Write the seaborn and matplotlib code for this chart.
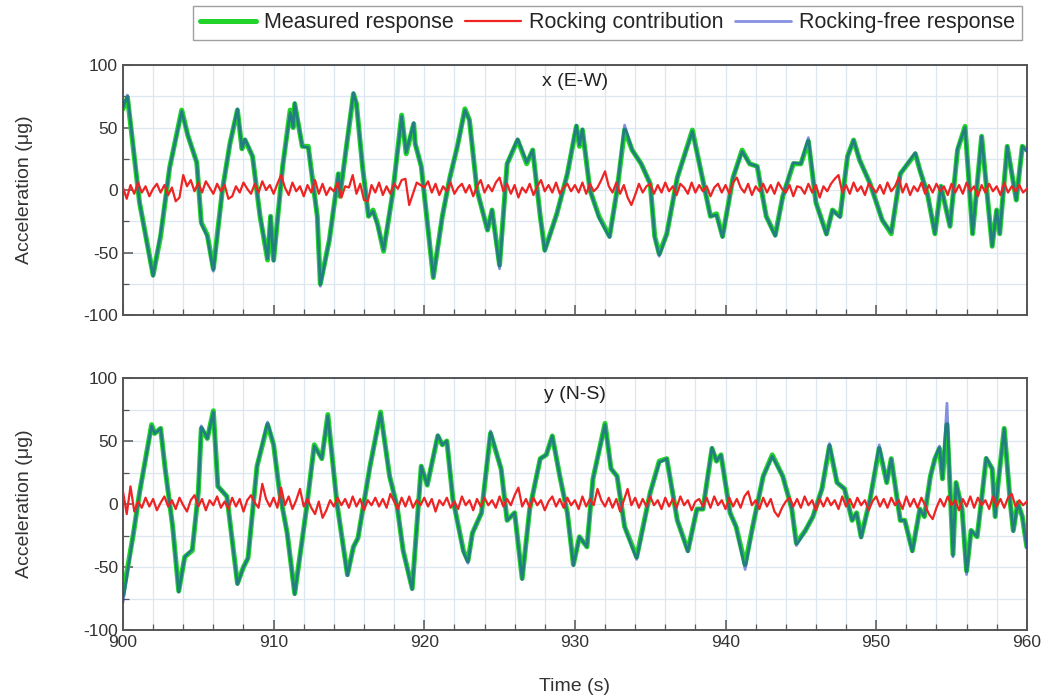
import numpy as np
import pandas as pd
import matplotlib
matplotlib.use("Agg")
import matplotlib.pyplot as plt
import seaborn as sns
from matplotlib.ticker import MultipleLocator

# ---------------- data ----------------
# x (E-W) component: measured response (time, value in micro-g)
t_x = [900.0, 900.3, 901.1, 902.0, 902.5, 903.1, 903.9, 904.3, 904.9, 905.2, 905.6, 906.0,
       906.6, 907.1, 907.6, 907.9, 908.1, 908.6, 909.1, 909.6, 909.8, 910.0, 910.6, 911.1,
       911.3, 911.4, 911.9, 912.3, 912.9, 913.1, 913.7, 914.3, 914.4, 915.3, 915.5, 915.9,
       916.3, 916.6, 916.9, 917.3, 917.9, 918.5, 918.8, 919.3, 919.4, 919.8, 920.6, 921.2,
       921.7, 922.2, 922.7, 923.0, 923.5, 924.2, 924.5, 925.0, 925.5, 926.2, 926.8, 927.2,
       927.7, 928.0, 928.8, 929.5, 930.1, 930.3, 930.5, 931.0, 931.6, 932.3, 932.8, 933.3,
       933.8, 934.4, 935.0, 935.3, 935.6, 936.1, 936.8, 937.8, 938.3, 939.0, 939.4, 939.8,
       940.5, 941.1, 941.6, 942.1, 942.7, 943.3, 943.8, 944.5, 945.0, 945.5, 946.0, 946.7,
       947.1, 947.6, 948.1, 948.5, 948.9, 949.6, 950.4, 951.0, 951.6, 952.6, 952.9, 953.4,
       953.9, 954.3, 954.9, 955.4, 955.9, 956.4, 957.0, 957.3, 957.7, 958.0, 958.2, 958.7,
       959.3, 959.7, 960.0]
meas_x = [65, 74, -10, -68, -37, 18, 64, 44, 22, -26, -36, -63,
          0, 37, 64, 33, 40, 27, -21, -56, -21, -56, 19, 64,
          50, 69, 35, 35, -21, -75, -40, 13, -5, 77, 69, 19,
          -21, -16, -27, -49, -3, 60, 29, 53, 37, 19, -70, -21,
          10, 35, 65, 56, 0, -32, -16, -60, 21, 40, 21, 32,
          -21, -48, -19, 13, 51, 35, 48, 0, -21, -37, 0, 48,
          32, 21, 5, -37, -51, -35, 10, 48, 19, -21, -19, -37,
          10, 32, 21, 19, -21, -36, -5, 21, 21, 39, -10, -35,
          -16, -21, 27, 40, 24, 5, -24, -35, 13, 29, 16, -3,
          -35, 3, -29, 32, 51, -35, 43, 5, -45, -16, -35, 35,
          -8, 35, 32]
free_x = [66, 76, -10, -69, -35, 18, 63, 44, 22, -27, -37, -65,
          0, 37, 65, 33, 41, 27, -21, -55, -21, -57, 19, 62,
          50, 70, 35, 34, -21, -77, -40, 13, -5, 78, 69, 19,
          -21, -17, -28, -48, -3, 59, 30, 54, 37, 19, -70, -21,
          10, 35, 64, 56, 0, -32, -16, -63, 21, 41, 22, 32,
          -21, -49, -19, 13, 52, 36, 49, 0, -22, -38, 0, 52,
          32, 21, 5, -38, -53, -35, 10, 47, 19, -21, -20, -38,
          10, 31, 21, 19, -21, -37, -5, 22, 21, 42, -10, -36,
          -16, -22, 27, 40, 24, 5, -24, -34, 13, 30, 16, -3,
          -35, 3, -29, 33, 50, -35, 43, 5, -45, -16, -35, 35,
          -8, 35, 31]
# rocking contribution, x component (uniform 0.25 s sampling, 900-960 s)
rock_x = [2, -7, 4, -3, 6, -2, 3, -5, 1, 5, -2, 4, -4, 2, -9, -6, 12, 3, 8, -1,
          6, -2, 7, 2, -3, 5, -1, 4, -7, -5, 3, -2, 6, 1, -3, 5, -2, 7, 0, 4,
          -3, 5, 12, 2, -4, 6, -1, 3, -5, 4, -2, 8, -3, 5, -4, 2, -1, 6, -6, 3,
          2, 12, -3, 5, -8, -9, 4, -2, 6, -4, 3, -3, 5, 1, 8, 9, -12, -3, 6, 4,
          2, 7, -2, 5, -4, 3, -1, 6, -3, 2, 5, -2, 4, -5, 3, 8, -2, 4, -1, 6,
          10, -1, 5, -3, 4, -6, 2, -2, 5, -4, 3, 8, -1, 4, -2, 6, -3, 2, 5, -1,
          4, -2, 6, -3, 5, -1, 2, 8, 15, 3, -2, 6, -3, 4, -6, -12, -4, 5, -2, 3,
          5, -3, 4, -2, 6, -1, 3, -4, 5, 2, -3, 6, -2, 4, -1, 3, -5, 2, 5, -2,
          4, -3, 6, 10, 2, -2, 5, -4, 3, -1, 5, -2, 4, -3, 6, 1, -2, 4, -5, 3,
          2, -3, 5, -2, 4, -6, 3, -1, 5, 9, 12, -2, 4, -3, 6, -1, 3, -4, 5, 2,
          -2, 4, -3, 6, -1, 3, 10, -2, 5, -4, 3, -1, 6, -3, 4, -2, 5, -1, 3, -4,
          5, -2, 4, -3, 6, -1, 3, -5, 4, -2, 5, -1, 3, -4, 6, -2, 3, -1, 4, -2, 1]

# y (N-S) component
t_y = [900.0, 900.7, 901.1, 901.9, 902.1, 902.5, 902.8, 903.3, 903.7, 904.1, 904.6, 905.0,
       905.2, 905.6, 906.0, 906.3, 906.9, 907.6, 908.0, 908.3, 908.9, 909.6, 910.0, 910.4,
       910.9, 911.4, 912.2, 912.7, 913.2, 913.6, 914.2, 914.9, 915.3, 915.6, 916.4, 917.1,
       917.7, 918.2, 918.6, 919.2, 919.8, 920.2, 920.9, 921.2, 921.5, 921.9, 922.6, 922.9,
       923.2, 923.8, 924.4, 924.9, 925.1, 925.5, 926.0, 926.5, 927.0, 927.7, 928.1, 928.5,
       929.0, 929.5, 929.9, 930.3, 930.8, 931.2, 932.0, 932.4, 932.8, 933.3, 934.1, 935.0,
       935.6, 936.1, 936.8, 937.5, 938.1, 938.5, 939.1, 939.4, 939.7, 940.3, 940.7, 941.3,
       941.8, 942.5, 943.1, 943.8, 944.4, 944.7, 945.3, 945.8, 946.4, 946.9, 947.4, 947.9,
       948.4, 948.7, 949.0, 949.6, 950.2, 950.7, 951.0, 951.6, 951.9, 952.4, 952.9, 953.2,
       953.6, 953.9, 954.2, 954.4, 954.7, 954.9, 955.1, 955.3, 955.7, 956.0, 956.3, 956.7,
       957.0, 957.3, 957.7, 957.9, 958.1, 958.5, 958.9, 959.1, 959.4, 959.7, 960.0]
meas_y = [-72, -23, 9, 63, 56, 60, 28, -18, -69, -42, -37, 9,
          60, 52, 74, 14, 6, -63, -50, -43, 30, 63, 47, 9,
          -23, -71, -2, 47, 36, 71, 1, -56, -34, -27, 30, 73,
          22, -2, -37, -67, 30, 15, 54, 47, 50, 4, -37, -45,
          -23, -7, 56, 36, 28, -13, -7, -59, -4, 36, 39, 54,
          22, -7, -48, -26, -34, 20, 64, 28, 22, -18, -42, 9,
          34, 36, -13, -37, -4, -4, 44, 34, 39, -7, -18, -48,
          -18, 22, 39, 22, -4, -31, -21, -10, 12, 46, 17, 12,
          -13, -7, -26, 4, 44, 17, 36, -13, -13, -37, -4, -10,
          22, 36, 44, 20, 63, 14, -40, 17, -4, -53, -21, -26,
          4, 36, 28, -10, 17, 60, 1, -21, 1, -10, -34]
free_y = [-78, -23, 9, 62, 56, 60, 28, -18, -70, -42, -36, 9,
          62, 52, 73, 14, 6, -64, -50, -43, 30, 65, 47, 9,
          -23, -72, -2, 46, 36, 70, 1, -57, -34, -27, 30, 72,
          22, -2, -37, -68, 30, 15, 55, 47, 50, 4, -38, -47,
          -23, -7, 58, 36, 28, -13, -7, -60, -4, 36, 39, 54,
          22, -7, -49, -26, -34, 20, 63, 28, 22, -18, -44, 9,
          33, 36, -13, -38, -4, -4, 45, 34, 39, -7, -18, -52,
          -18, 22, 38, 22, -4, -33, -21, -10, 12, 48, 17, 12,
          -13, -7, -27, 4, 47, 17, 36, -13, -13, -38, -4, -10,
          22, 36, 46, 20, 80, 14, -42, 17, -4, -56, -21, -26,
          4, 37, 28, -10, 17, 60, 1, -22, 1, -10, -35]
rock_y = [10, -8, 14, -6, 2, -3, 5, -2, 4, -5, 1, 6, -2, 3, -4, 5, -1, -6, 3, 7,
          -2, 4, -5, 3, -1, 6, -3, 2, -4, 5, -2, 4, -6, 3, 7, 1, -3, 16, 4, -2,
          5, -3, 13, -1, 6, -4, 3, 12, -2, 4, -3, -8, 2, -11, -5, 3, -2, 5, -1, 4,
          -3, 6, -2, 4, -5, 3, -1, 5, -2, 4, -3, 8, 2, -4, 5, -2, 6, -3, 3, -1,
          5, -2, 4, -6, 3, -1, 5, -3, 2, -4, 6, -1, 3, -5, 4, -2, 5, -1, 3, -3,
          6, -2, 4, -1, 7, 13, -2, 4, -3, 5, -1, 3, -5, 2, 6, -2, 4, -3, 5, -1,
          3, -4, 6, -2, 4, -1, 12, 3, -2, 5, -3, 4, -6, 3, 12, -1, 5, -3, 4, -2,
          6, -1, 3, -4, 5, -2, 4, -3, 6, -1, 3, -5, 2, 4, -2, 5, -3, 6, -1, 3,
          -4, 5, -2, 4, -3, 6, 10, -1, 3, -4, 5, -2, 4, -6, -10, -3, 2, 5, -2, 4,
          -3, 6, -1, 3, -5, 4, -2, 5, -1, 3, -4, 6, -2, 4, -3, 5, -1, 3, -5, 2,
          6, -2, 4, -3, 5, -1, 3, -4, 6, -2, 4, -3, 5, -1, -8, -12, -3, 4, -2, 6,
          -1, 3, -5, 4, -2, 6, -3, 5, -1, 3, -4, 6, -2, 4, -3, 5, 8, -2, 3, -1, 2]

panel_titles = ["x (E-W)", "y (N-S)"]
series_labels = ["Measured response", "Rocking contribution", "Rocking-free response"]
x_ticks = [900, 910, 920, 930, 940, 950, 960]
y_ticks = [-100, -50, 0, 50, 100]

# ---------------- style ----------------
sns.set_theme(style="white")
plt.rcParams["font.family"] = ["Liberation Sans", "DejaVu Sans"]
plt.rcParams["axes.unicode_minus"] = False

GREEN = "#22d42a"
RED = "#ee2424"
BLUE = "#2238c8"
GRID = "#dde7f2"
FRAME = "#555555"

fig = plt.figure(figsize=(10.51, 7.0), dpi=100)
ax_top = fig.add_axes([0.117, 0.550, 0.860, 0.357])
ax_bot = fig.add_axes([0.117, 0.100, 0.860, 0.360])

panels = [
    (ax_top, t_x, meas_x, free_x, rock_x),
    (ax_bot, t_y, meas_y, free_y, rock_y),
]

for i, (ax, tt, meas, free, rock) in enumerate(panels):
    t_rock = np.linspace(900, 960, len(rock))
    sns.lineplot(x=tt, y=meas, ax=ax, color=GREEN, lw=3.6, sort=False,
                 estimator=None, legend=False, zorder=2)
    sns.lineplot(x=t_rock, y=rock, ax=ax, color=RED, lw=1.6, sort=False,
                 estimator=None, legend=False, zorder=4)
    sns.lineplot(x=tt, y=free, ax=ax, color=BLUE, lw=2.0, alpha=0.55, sort=False,
                 estimator=None, legend=False, zorder=3)

    ax.set_xlim(900, 960)
    ax.set_ylim(-100, 100)
    ax.set_xticks(x_ticks)
    ax.set_yticks(y_ticks)
    ax.xaxis.set_minor_locator(MultipleLocator(2))
    ax.yaxis.set_minor_locator(MultipleLocator(25))
    ax.set_axisbelow(True)
    ax.grid(which="both", color=GRID, lw=0.9)
    ax.tick_params(which="both", direction="in", colors=FRAME, labelcolor="#333333",
                   labelsize=12.5, bottom=True, left=True, top=False, right=False)
    ax.tick_params(which="major", length=7, width=1.1)
    ax.tick_params(which="minor", length=4, width=0.9)
    for sp in ax.spines.values():
        sp.set_visible(True)
        sp.set_color(FRAME)
        sp.set_linewidth(1.4)

    ax.text(0.5, 0.935, panel_titles[i], transform=ax.transAxes, ha="center",
            va="center", fontsize=14, color="#222222")
    ax.set_ylabel("Acceleration (\u03bcg)", fontsize=14, color="#333333")
    ax.yaxis.set_label_coords(-0.100, 0.5)
    ax.set_xlabel("")

ax_top.tick_params(labelbottom=False)
ax_bot.set_xlabel("Time (s)", fontsize=14, color="#333333")
ax_bot.xaxis.set_label_coords(0.5, -0.19)

handles = ax_top.lines[:3]
leg = fig.legend(handles, series_labels, loc="upper center",
                 bbox_to_anchor=(0.578, 0.998), ncol=3, fontsize=15.5,
                 frameon=True, fancybox=False, edgecolor="#888888",
                 handlelength=2.6, handletextpad=0.4, columnspacing=0.5,
                 borderpad=0.3, borderaxespad=0.2)
leg.get_frame().set_linewidth(1.0)

fig.savefig("out.png", dpi=100)
